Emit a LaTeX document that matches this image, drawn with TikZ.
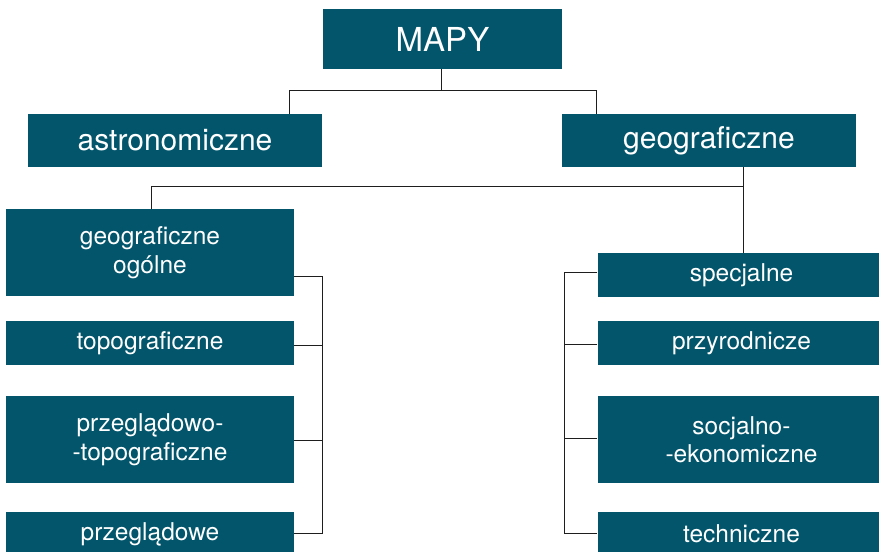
\documentclass[tikz,border=0pt]{standalone}
\usepackage{fontspec}
\setmainfont{TeX Gyre Heros}
\definecolor{boxteal}{RGB}{2,85,107}
\definecolor{linegray}{RGB}{30,30,30}
\tikzset{
  box/.style={fill=boxteal, text=white, inner sep=0pt, align=center, draw=none},
  topbox/.style={box, minimum width=239pt, minimum height=60pt, font=\fontsize{33}{38}\selectfont},
  midbox/.style={box, minimum width=294pt, minimum height=53pt, font=\fontsize{30}{34}\selectfont},
  leafbox/.style={box, minimum width=288pt, font=\fontsize{24.5}{28.5}\selectfont},
  shortleaf/.style={leafbox, minimum height=44pt},
  tallleaf/.style={leafbox, minimum height=87pt},
  link/.style={draw=linegray, line width=0.9pt}
}
\begin{document}
\begin{tikzpicture}[x=1pt, y=-1pt]
  \useasboundingbox (0,0) rectangle (879,552);

  % top level
  \node[topbox] (mapy) at (442.5,39) {MAPY};

  % second level
  \node[midbox] (astro) at (175,140.5) {astronomiczne};
  \node[midbox] (geo) at (709,140.5) {geograficzne};

  % general geographic maps
  \node[tallleaf]  (ogolne)   at (150,252.5) {geograficzne\\ogólne};
  \node[shortleaf] (topo)     at (150,343)   {topograficzne};
  \node[tallleaf]  (przegtop) at (150,439.5) {przeglądowo-\\-topograficzne};
  \node[shortleaf] (przeg)    at (150,534)   {przeglądowe};

  % special maps
  \node[shortleaf] (spec)   at (741.5,275)   {specjalne};
  \node[shortleaf] (przyr)  at (741.5,343)   {przyrodnicze};
  \node[tallleaf]  (socj)   at (741.5,439.5) {socjalno-\\-ekonomiczne};
  \node[shortleaf] (techn)  at (741.5,534)   {techniczne};

  % MAPY -> astronomiczne / geograficzne
  \coordinate (tM) at (441,90);
  \coordinate (tA) at (289,90);
  \coordinate (tB) at (596,90);
  \draw[link] (mapy.south -| tM) -- (tM);
  \draw[link] (astro.north -| tA) -- (tA) -- (tB) -- (geo.north -| tB);

  % geograficzne -> ogólne / specjalne
  \coordinate (gA) at (151,186);
  \coordinate (gB) at (743,186);
  \draw[link] (ogolne.north -| gA) -- (gA) -- (gB);
  \draw[link] (geo.south -| gB) -- (spec.north -| gB);

  % bracket on the left group
  \coordinate (l1) at (322,276);
  \coordinate (l2) at (322,345);
  \coordinate (l3) at (322,440);
  \coordinate (l4) at (322,533);
  \draw[link] (ogolne.east |- l1) -- (l1) -- (l4) -- (przeg.east |- l4);
  \draw[link] (topo.east |- l2) -- (l2);
  \draw[link] (przegtop.east |- l3) -- (l3);

  % bracket on the right group
  \coordinate (r1) at (564,272);
  \coordinate (r2) at (564,344);
  \coordinate (r3) at (564,438);
  \coordinate (r4) at (564,533);
  \draw[link] (spec.west |- r1) -- (r1) -- (r4) -- (techn.west |- r4);
  \draw[link] (przyr.west |- r2) -- (r2);
  \draw[link] (socj.west |- r3) -- (r3);
\end{tikzpicture}
\end{document}
